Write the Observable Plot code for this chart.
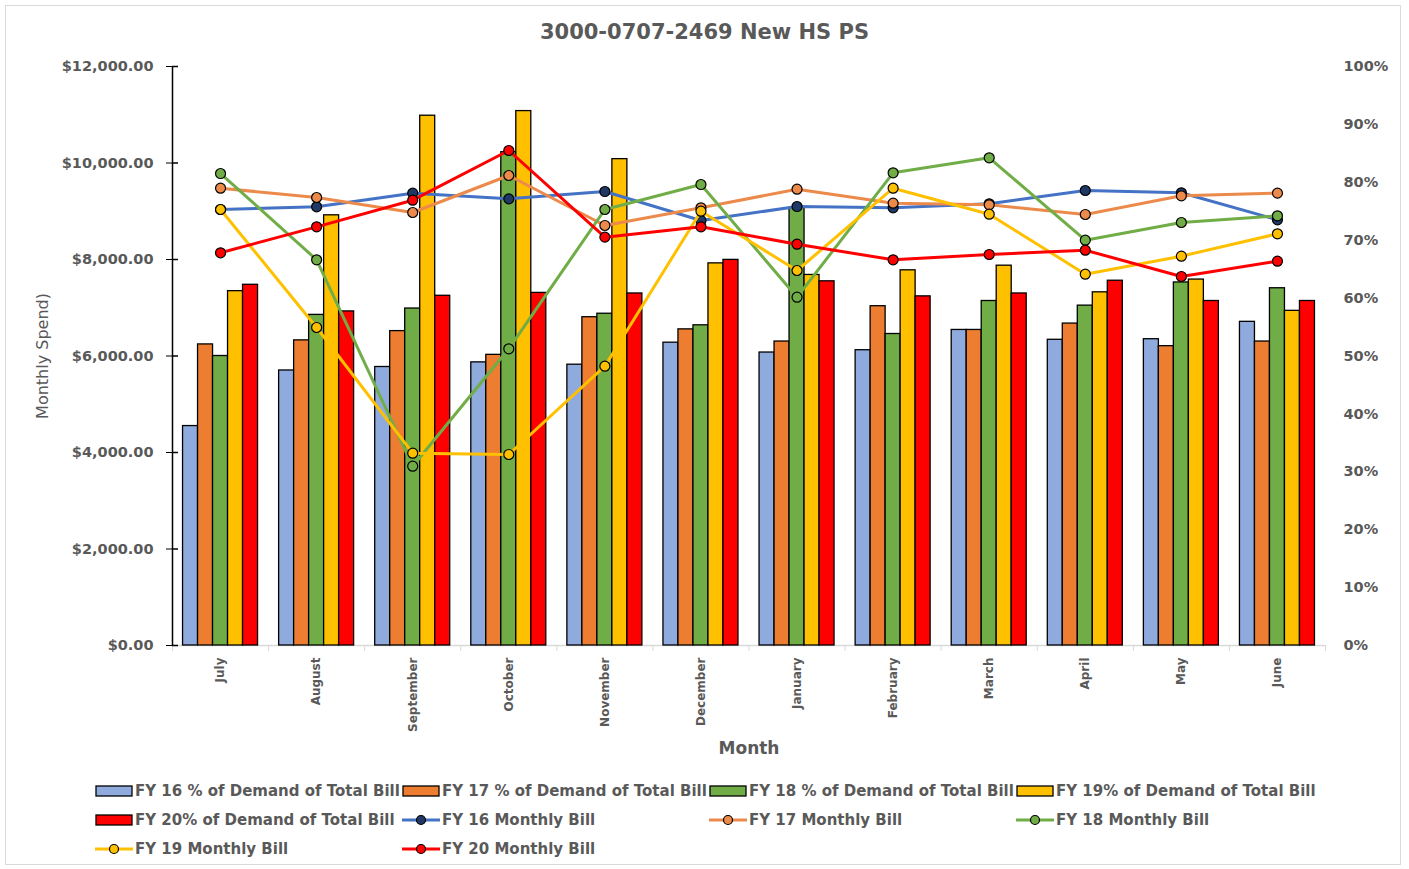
<!DOCTYPE html>
<html><head><meta charset="utf-8">
<script src="https://cdn.jsdelivr.net/npm/d3@7"></script>
<script src="https://cdn.jsdelivr.net/npm/@observablehq/plot@0.6"></script>
<style>
body{margin:0;background:#fff;}
#wrap{position:relative;width:1409px;height:869px;overflow:hidden;background:#fff;}
#border{position:absolute;left:5px;top:5px;width:1396px;height:860px;border:1px solid #d9d9d9;box-sizing:border-box;}
#title{position:absolute;left:0;width:1409px;top:20px;text-align:center;font:bold 21px "DejaVu Sans";color:#595959;}
#chart{position:absolute;left:0;top:50px;}
#legend{position:absolute;left:95px;top:776px;display:grid;grid-template-columns:repeat(4,307px);grid-auto-rows:29px;font:bold 15px "DejaVu Sans";color:#595959;}
.item{display:flex;align-items:center;white-space:nowrap;}
.item svg{margin-right:2px;flex:none;}
</style></head>
<body>
<div id="wrap">
  <div id="border"></div>
  <div id="title">3000-0707-2469 New HS PS</div>
  <div id="chart"></div>
  <div id="legend"></div>
</div>
<script>
// ---- data ----
const months = ["July","August","September","October","November","December","January","February","March","April","May","June"];
// bars: % of demand of total bill (right axis)
const fy16Pct = [37.9, 47.5, 48.1, 48.9, 48.5, 52.3, 50.6, 51.0, 54.5, 52.8, 52.9, 55.9];
const fy17Pct = [52.0, 52.7, 54.3, 50.2, 56.7, 54.6, 52.5, 58.6, 54.5, 55.6, 51.7, 52.5];
const fy18Pct = [50.0, 57.1, 58.2, 85.2, 57.3, 55.3, 75.6, 53.8, 59.5, 58.7, 62.7, 61.7];
const fy19Pct = [61.2, 74.3, 91.5, 92.3, 84.0, 66.0, 64.0, 64.8, 65.6, 61.0, 63.2, 57.8];
const fy20Pct = [62.3, 57.7, 60.4, 60.9, 60.8, 66.6, 62.9, 60.3, 60.8, 63.0, 59.5, 59.5];
// lines: monthly bill in dollars (left axis)
const fy16Bill = [9036, 9092, 9375, 9257, 9409, 8808, 9098, 9071, 9154, 9430, 9382, 8822];
const fy17Bill = [9478, 9285, 8974, 9741, 8705, 9071, 9457, 9167, 9133, 8933, 9320, 9375];
const fy18Bill = [9782, 7994, 3716, 6149, 9036, 9554, 7219, 9797, 10108, 8400, 8767, 8905];
const fy19Bill = [9036, 6591, 3986, 3959, 5789, 9001, 7772, 9478, 8939, 7696, 8069, 8532];
const fy20Bill = [8139, 8677, 9229, 10259, 8463, 8677, 8317, 7994, 8104, 8193, 7648, 7965];
const leftTicks = [0, 2000, 4000, 6000, 8000, 10000, 12000];
const rightTicksPct = [0, 10, 20, 30, 40, 50, 60, 70, 80, 90, 100];

const barSeries = [
  {name: "FY 16 % of Demand of Total Bill", fill: "#8FAADC", values: fy16Pct},
  {name: "FY 17 % of Demand of Total Bill", fill: "#ED7D31", values: fy17Pct},
  {name: "FY 18 % of Demand of Total Bill", fill: "#70AD47", values: fy18Pct},
  {name: "FY 19% of Demand of Total Bill", fill: "#FFC000", values: fy19Pct},
  {name: "FY 20% of Demand of Total Bill", fill: "#FF0000", values: fy20Pct}
];
const lineSeries = [
  {name: "FY 16 Monthly Bill", stroke: "#4472C4", dot: "#1F3864", values: fy16Bill},
  {name: "FY 17 Monthly Bill", stroke: "#EB8A4A", dot: "#EB8A4A", values: fy17Bill},
  {name: "FY 18 Monthly Bill", stroke: "#70AD47", dot: "#70AD47", values: fy18Bill},
  {name: "FY 19 Monthly Bill", stroke: "#FFC000", dot: "#FFC000", values: fy19Bill},
  {name: "FY 20 Monthly Bill", stroke: "#FF0000", dot: "#FF0000", values: fy20Bill}
];

// ---- layout ----
const marginLeft = 172, marginRight = 84, width = 1409;
const slot = (width - marginLeft - marginRight) / months.length; // px per month
const barW = 15 / slot; // bar width in month units
const pctToY = 12000 / 100; // 100% on right axis == $12,000 on left axis

const marks = [];
// x baseline & boundary ticks
marks.push(Plot.ruleY([0], {x1: -0.5, x2: months.length - 0.5, stroke: "#d9d9d9", strokeWidth: 1.5}));
marks.push(Plot.axisX({ticks: d3.range(months.length + 1).map(i => i - 0.5), tickSize: 6, text: null, stroke: "#d9d9d9", label: null}));
marks.push(Plot.axisX({ticks: d3.range(months.length), tickSize: 0, tickPadding: 12, tickRotate: -90,
  tickFormat: i => months[i], fontSize: 12, fontWeight: "bold", fontFamily: "DejaVu Sans", label: null}));

// bars
barSeries.forEach((s, k) => {
  const rows = s.values.map((v, i) => ({i, v}));
  marks.push(Plot.rectY(rows, {
    x1: d => d.i + (k - 2.5) * barW,
    x2: d => d.i + (k - 1.5) * barW,
    y1: 0, y2: d => d.v * pctToY,
    fill: s.fill, stroke: "#000", strokeWidth: 1.3
  }));
});

// left axis
marks.push(Plot.ruleX([-0.5], {y1: 0, y2: 12000, stroke: "#000", strokeWidth: 1.5}));
marks.push(Plot.ruleY(leftTicks, {y: d => d, x1: -0.5, x2: -0.5 + 6 / slot, stroke: "#000", strokeWidth: 1.5}));
marks.push(Plot.axisY({anchor: "left", ticks: leftTicks, tickSize: 6, tickPadding: 13, stroke: "#000",
  tickFormat: d => "$" + d3.format(",.2f")(d), fontSize: 14.5, fontWeight: "bold", label: null}));
// right axis (percent)
marks.push(Plot.axisY({anchor: "right", ticks: rightTicksPct.map(p => p * pctToY), tickSize: 0, tickPadding: 18,
  tickFormat: d => Math.round(d / pctToY) + "%", fontSize: 14.5, fontWeight: "bold", label: null}));

// lines
lineSeries.forEach(s => {
  const rows = s.values.map((v, i) => ({i, v}));
  marks.push(Plot.line(rows, {x: "i", y: "v", stroke: s.stroke, strokeWidth: 3}));
  marks.push(Plot.dot(rows, {x: "i", y: "v", r: 5, fill: s.dot, stroke: "#000", strokeWidth: 1.2}));
});

// axis titles
marks.push(Plot.text(["Month"], {text: d => d, frameAnchor: "bottom", dy: 108, fontSize: 17, fontWeight: "bold", fill: "#595959"}));
marks.push(Plot.text(["Monthly Spend)"], {text: d => d, frameAnchor: "left", dx: -130, rotate: -90, textAnchor: "middle", fontSize: 16, fill: "#595959"}));

const chart = Plot.plot({
  width, height: 720,
  marginTop: 16, marginBottom: 125, marginLeft, marginRight,
  x: {type: "linear", domain: [-0.5, months.length - 0.5], axis: null},
  y: {domain: [0, 12000], axis: null},
  style: {fontFamily: "DejaVu Sans", color: "#595959", background: "transparent", overflow: "visible"},
  marks
});
document.getElementById("chart").appendChild(chart);

// ---- legend ----
const legend = document.getElementById("legend");
const legendItems = [
  ...barSeries.map(s => ({type: "bar", ...s})),
  ...lineSeries.map(s => ({type: "line", ...s}))
];
legendItems.forEach(it => {
  const div = document.createElement("div");
  div.className = "item";
  let sw;
  if (it.type === "bar") {
    sw = `<svg width="38" height="14"><rect x="1" y="2" width="36" height="10" fill="${it.fill}" stroke="#000" stroke-width="1.3"/></svg>`;
  } else {
    sw = `<svg width="38" height="14"><line x1="0" x2="38" y1="7" y2="7" stroke="${it.stroke}" stroke-width="3"/><circle cx="19" cy="7" r="4.5" fill="${it.dot}" stroke="#000" stroke-width="1.2"/></svg>`;
  }
  div.innerHTML = sw + `<span>${it.name}</span>`;
  legend.appendChild(div);
});
</script>
</body></html>
